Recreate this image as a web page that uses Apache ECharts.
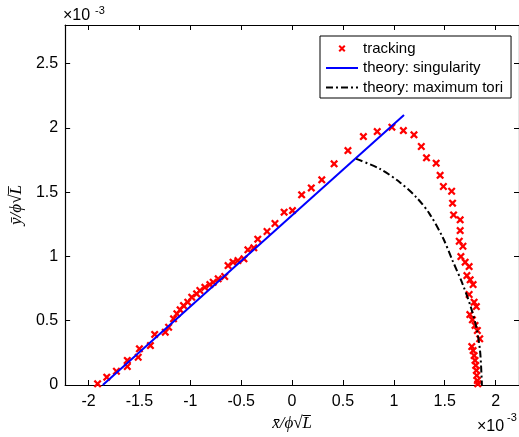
<!DOCTYPE html>
<html>
<head>
<meta charset="utf-8">
<script src="https://cdn.jsdelivr.net/npm/echarts@6/dist/echarts.min.js"></script>
<style>
  html, body { margin: 0; padding: 0; background: #fff; }
  #main { width: 519px; height: 437px; }
</style>
</head>
<body>
<div id="main"></div>
<script>
// values are in units of 1e-3
const trackX = [-1.911, -1.821, -1.726, -1.619, -1.619, -1.512, -1.500, -1.392, -1.350, -1.246,
  -1.213, -1.165, -1.132, -1.100, -1.067, -1.025, -0.986, -0.938, -0.906, -0.857,
  -0.808, -0.775, -0.726, -0.662, -0.629, -0.580, -0.532, -0.473, -0.434, -0.376,
  -0.337, -0.246, -0.168, -0.078, 0.004, 0.094, 0.189, 0.292, 0.413, 0.549,
  0.701, 0.837, 0.981, 1.094, 1.198, 1.270, 1.321, 1.416, 1.455, 1.487,
  1.568, 1.577, 1.587, 1.652, 1.652, 1.643, 1.679, 1.659, 1.701, 1.740,
  1.718, 1.750, 1.779, 1.740, 1.789, 1.811, 1.747, 1.772, 1.798, 1.821,
  1.844, 1.766, 1.779, 1.789, 1.798, 1.805, 1.811, 1.815, 1.821, 1.825];
const trackY = [0.009, 0.061, 0.107, 0.191, 0.144, 0.216, 0.281, 0.307, 0.393, 0.411,
  0.449, 0.515, 0.554, 0.585, 0.618, 0.644, 0.683, 0.709, 0.735, 0.760,
  0.781, 0.799, 0.826, 0.844, 0.929, 0.955, 0.968, 0.981, 1.051, 1.067,
  1.134, 1.194, 1.256, 1.344, 1.357, 1.479, 1.533, 1.596, 1.720, 1.823,
  1.932, 1.971, 2.005, 1.979, 1.946, 1.855, 1.767, 1.725, 1.631, 1.544,
  1.507, 1.414, 1.323, 1.285, 1.201, 1.118, 1.079, 0.999, 0.955, 0.921,
  0.851, 0.818, 0.781, 0.704, 0.644, 0.610, 0.548, 0.507, 0.463, 0.424,
  0.359, 0.299, 0.268, 0.229, 0.191, 0.152, 0.113, 0.074, 0.035, 0.009];

const singX = [-1.86, 1.10];
const singY = [0, 2.10];

const toriX = [0.630, 0.864, 1.058, 1.221, 1.351, 1.480, 1.577, 1.675, 1.757, 1.811, 1.847, 1.864, 1.865];
const toriY = [1.759, 1.681, 1.577, 1.460, 1.331, 1.149, 0.968, 0.787, 0.605, 0.449, 0.268, 0.035, 0];

const xTicks = [-2, -1.5, -1, -0.5, 0, 0.5, 1, 1.5, 2];
const yTicks = [0, 0.5, 1, 1.5, 2, 2.5];

const pairs = (xs, ys) => xs.map((x, i) => [x, ys[i]]);

const crossIcon = 'path://M2,0 L5,3 L8,0 L10,2 L7,5 L10,8 L8,10 L5,7 L2,10 L0,8 L3,5 L0,2 Z';
const font = 'Liberation Sans';

function ticks(vals) {
  return { inside: true, length: 5, lineStyle: { color: '#000' }, customValues: vals };
}
const line = { onZero: false, lineStyle: { color: '#000', width: 1.2 } };
const nameStyle = { fontFamily: 'Liberation Serif', fontStyle: 'italic', fontSize: 17, color: '#000' };

let option = {
  animation: false,
  backgroundColor: '#fff',
  grid: { left: 62, top: 25, width: 458.6, height: 360 },
  legend: {
    orient: 'vertical',
    left: 320,
    top: 36,
    padding: [5, 8, 3, 5],
    itemGap: 4.5,
    itemWidth: 32,
    itemHeight: 7,
    backgroundColor: '#fff',
    borderColor: '#000',
    borderWidth: 1,
    borderRadius: 0,
    textStyle: { fontFamily: font, fontSize: 15, color: '#000' },
    data: [
      { name: 'tracking', icon: crossIcon },
      { name: 'theory: singularity', itemStyle: { opacity: 0 } },
      { name: 'theory: maximum tori', itemStyle: { opacity: 0 } }
    ]
  },
  xAxis: [
    {
      type: 'value', position: 'bottom', min: -2.23, max: 2.23,
      name: 'x\u0304/\u03d5\u221aL\u0305', nameLocation: 'middle', nameGap: 24,
      nameTextStyle: nameStyle,
      axisLine: line, axisTick: ticks(xTicks), splitLine: { show: false },
      axisLabel: { customValues: xTicks, margin: 9, color: '#000', fontFamily: font, fontSize: 16,
        formatter: v => String(v) }
    },
    {
      type: 'value', position: 'top', min: -2.23, max: 2.23,
      axisLine: line, axisTick: ticks(xTicks), splitLine: { show: false },
      axisLabel: { show: false }
    }
  ],
  yAxis: [
    {
      type: 'value', position: 'left', min: 0, max: 2.8,
      name: 'y\u0304/\u03d5\u221aL\u0305', nameLocation: 'middle', nameGap: 20, nameRotate: 90,
      nameTextStyle: nameStyle,
      axisLine: line, axisTick: ticks(yTicks), splitLine: { show: false },
      axisLabel: { customValues: yTicks, margin: 7, color: '#000', fontFamily: font, fontSize: 16,
        formatter: v => String(v) }
    },
    {
      type: 'value', position: 'right', min: 0, max: 2.8,
      axisLine: line, axisTick: ticks(yTicks), splitLine: { show: false },
      axisLabel: { show: false }
    }
  ],
  graphic: [
    { type: 'text', left: 63, top: 8, style: { text: '\u00d710', font: '16px ' + font, fill: '#000' } },
    { type: 'text', left: 95, top: 5, style: { text: '-3', font: '11px ' + font, fill: '#000' } },
    { type: 'text', left: 477, top: 419, style: { text: '\u00d710', font: '16px ' + font, fill: '#000' } },
    { type: 'text', left: 507, top: 412, style: { text: '-3', font: '11px ' + font, fill: '#000' } }
  ],
  series: [
    {
      name: 'tracking',
      type: 'scatter',
      symbol: crossIcon,
      symbolSize: 8,
      itemStyle: { color: '#ff0000', opacity: 1 },
      data: pairs(trackX, trackY)
    },
    {
      name: 'theory: singularity',
      type: 'line',
      symbol: 'none',
      lineStyle: { color: '#0000ff', width: 2 },
      itemStyle: { color: '#0000ff' },
      data: pairs(singX, singY)
    },
    {
      name: 'theory: maximum tori',
      type: 'line',
      symbol: 'none',
      smooth: 0.3,
      lineStyle: { color: '#000', width: 2, type: [7, 3, 2, 3] },
      itemStyle: { color: '#000' },
      data: pairs(toriX, toriY)
    }
  ]
};

let myChart = echarts.init(document.getElementById('main'), null, { renderer: 'canvas' });
myChart.setOption(option);
</script>
</body>
</html>
